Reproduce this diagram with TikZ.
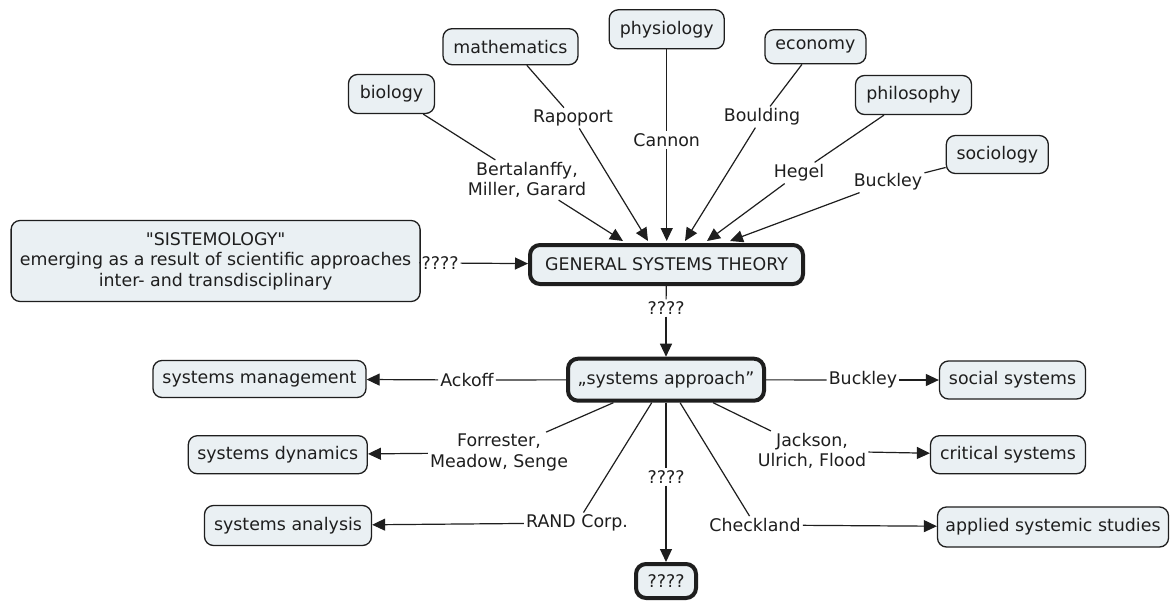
\documentclass[tikz,border=0pt]{standalone}
\usepackage{fontspec}
% plain family: straight quotes stay straight
\newfontfamily\mapfont{DejaVu Sans}
\usetikzlibrary{arrows.meta,calc}
\definecolor{boxfill}{RGB}{234,240,243}
\definecolor{inkline}{RGB}{30,30,30}
\begin{document}
\begin{tikzpicture}[x=1pt,y=-1pt,
  every node/.style={font=\mapfont\fontsize{17.4}{20.5}\selectfont, text=inkline},
  concept/.style={draw=inkline, line width=1.3pt, fill=boxfill, rounded corners=9pt, inner sep=0pt, align=center},
  keyconcept/.style={concept, line width=4pt, rounded corners=10pt},
  linklabel/.style={inner sep=2pt, align=center},
  link/.style={draw=inkline, line width=1.2pt},
  arrowlink/.style={link, -{Triangle[length=13pt,width=12pt]}},
]
\fill[white] (0,0) rectangle (1174,602);
\useasboundingbox (0,0) rectangle (1174,602);

% ---- concepts ----
\node[concept, minimum width=86pt,  minimum height=39pt] (biology) at (391.5,94)   {biology};
\node[concept, minimum width=135pt, minimum height=36pt] (math)    at (510.5,46.7) {mathematics};
\node[concept, minimum width=115pt, minimum height=39pt] (physio)  at (666.7,29.3) {physiology};
\node[concept, minimum width=101pt, minimum height=34pt] (econ)    at (815.4,46.7) {economy};
\node[concept, minimum width=116pt, minimum height=39pt] (philo)   at (913.5,95)   {philosophy};
\node[concept, minimum width=102pt, minimum height=38pt] (socio)   at (997.3,154.5){sociology};
\node[concept, minimum width=409pt, minimum height=81pt] (sist)    at (215.6,261)
  {"SISTEMOLOGY"\\emerging as a result of scientific approaches\\inter- and transdisciplinary};
\node[keyconcept, minimum width=273pt, minimum height=39pt] (gst) at (666.5,264.5) {GENERAL SYSTEMS THEORY};
\node[keyconcept, minimum width=196pt, minimum height=42pt] (sa)  at (666,379.7)   {„systems approach”};
\node[keyconcept, minimum width=60pt,  minimum height=34pt] (qbox) at (666,581)    {????};

\node[concept, minimum width=213pt, minimum height=37pt] (mgmt)    at (259.5,379)   {systems management};
\node[concept, minimum width=146pt, minimum height=38pt] (social)  at (1012.5,380)  {social systems};
\node[concept, minimum width=179pt, minimum height=38pt] (dyn)     at (277.8,454.7) {systems dynamics};
\node[concept, minimum width=155pt, minimum height=38pt] (crit)    at (1008,454.7)  {critical systems};
\node[concept, minimum width=167pt, minimum height=40pt] (anal)    at (288,525.5)   {systems analysis};
\node[concept, minimum width=231pt, minimum height=40pt] (applied) at (1053,527)    {applied systemic studies};

% ---- link labels ----
\node[linklabel] (bert)   at (527,180)   {Bertalanffy,\\Miller, Garard};
\node[linklabel] (rapo)   at (573,118)   {Rapoport};
\node[linklabel] (cannon) at (666.7,140) {Cannon};
\node[linklabel] (bould)  at (762,117)   {Boulding};
\node[linklabel] (hegel)  at (799,173)   {Hegel};
\node[linklabel] (buckA)  at (888,182)   {Buckley};
\node[linklabel] (qA)     at (440,263)   {????};
\node[linklabel] (qB)     at (666,308)   {????};
\node[linklabel] (ackoff) at (467,380)   {Ackoff};
\node[linklabel] (buckB)  at (863,380)   {Buckley};
\node[linklabel] (forr)   at (499,452.7) {Forrester,\\Meadow, Senge};
\node[linklabel] (jack)   at (812,451)   {Jackson,\\Ulrich, Flood};
\node[linklabel] (rand)   at (577,523)   {RAND Corp.};
\node[linklabel] (qC)     at (666,477)   {????};
\node[linklabel] (check)  at (755,525)   {Checkland};

% ---- arrow targets along the top of the theory box ----
\coordinate (t1) at (623,241);
\coordinate (t2) at (648,241);
\coordinate (t3) at (666.7,241);
\coordinate (t4) at (685,241);
\coordinate (t5) at (707,241);
\coordinate (t6) at (730,241);

% ---- links into the theory ----
\draw[link] (biology) -- (bert);  \draw[arrowlink] (bert) -- (t1);
\draw[link] (math) -- (rapo);     \draw[arrowlink] (rapo) -- (t2);
\draw[link] (physio) -- (cannon); \draw[arrowlink] (cannon) -- (t3);
\draw[link] (econ) -- (bould);    \draw[arrowlink] (bould) -- (t4);
\draw[link] (philo) -- (hegel);   \draw[arrowlink] (hegel) -- (t5);
\draw[link] (socio) -- (buckA);   \draw[arrowlink] (buckA) -- (t6);
\draw[link] (sist) -- (qA);       \draw[arrowlink] (qA) -- (gst);
\draw[link] (gst) -- (qB);        \draw[arrowlink] (qB) -- (sa);

% ---- links out of the systems approach ----
\draw[link] (sa) -- (ackoff); \draw[arrowlink] (ackoff) -- (mgmt);
\draw[link] (sa) -- (buckB);  \draw[arrowlink] (buckB) -- (social);
\draw[link] (sa) -- (forr);   \draw[arrowlink] (forr) -- (dyn);
\draw[link] (sa) -- (jack);   \draw[arrowlink] (jack) -- (crit);
\draw[link] (sa) -- (rand);   \draw[arrowlink] (rand) -- (anal);
\draw[link] (sa) -- (qC);     \draw[arrowlink] (qC) -- (qbox);
\draw[link] (sa) -- (check);  \draw[arrowlink] (check) -- (applied);
\end{tikzpicture}
\end{document}
